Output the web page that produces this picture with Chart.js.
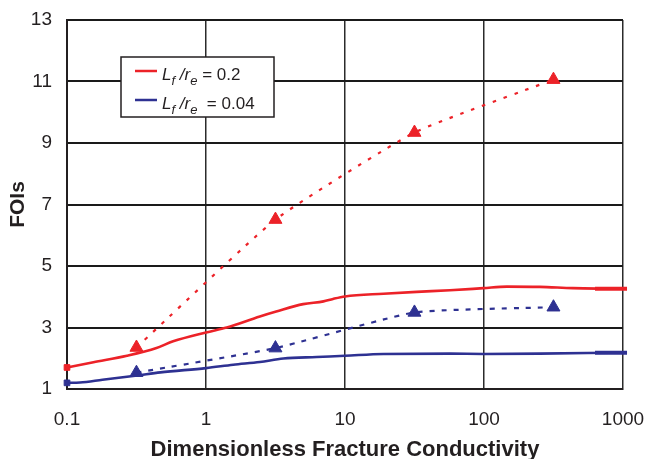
<!DOCTYPE html>
<html lang="en">
<head>
<meta charset="UTF-8">
<title>FOIs vs Dimensionless Fracture Conductivity</title>
<script src="https://cdn.jsdelivr.net/npm/chart.js"></script>
<style>
  html, body { margin: 0; padding: 0; background: #ffffff; overflow: hidden; }
  #wrap { position: relative; width: 645px; height: 459px; }
</style>
</head>
<body>
<div id="wrap"><canvas id="grafico" width="645" height="459"></canvas></div>

<script>
  // Valores
  const xTicks = [0.1, 1, 10, 100, 1000];

  // curva contínua Lf/re = 0.2
  const redCurveX = [0.1, 0.155, 0.27, 0.44, 0.58, 1.0, 1.41, 2.44, 3.2, 5.0, 7.0, 8.2, 10, 18.9, 32.8, 56.9, 99, 146, 252, 436, 820];
  const redCurveY = [1.70, 1.87, 2.08, 2.33, 2.55, 2.84, 3.00, 3.36, 3.52, 3.76, 3.85, 3.93, 4.01, 4.10, 4.16, 4.21, 4.28, 4.33, 4.32, 4.28, 4.26];

  // curva contínua Lf/re = 0.04
  const blueCurveX = [0.1, 0.124, 0.18, 0.32, 0.47, 1.0, 1.57, 2.44, 3.6, 6.25, 10, 18.9, 56.9, 99, 252, 820];
  const blueCurveY = [1.20, 1.21, 1.30, 1.44, 1.54, 1.68, 1.79, 1.88, 1.99, 2.04, 2.08, 2.14, 2.15, 2.14, 2.15, 2.18];

  // pontos (triângulos) ligados por linha pontilhada
  const markerX = [0.316, 3.16, 31.6, 316];
  const redMarkerY = [2.35, 6.51, 9.34, 11.06];
  const blueMarkerY = [1.53, 2.33, 3.49, 3.66];

  const VERMELHO = 'rgb(236, 34, 40)';
  const AZUL = 'rgb(46, 49, 146)';

  function pares(xs, ys) {
    return xs.map((x, i) => ({ x: x, y: ys[i] }));
  }

  // marcador quadrado no início e traço grosso no fim das curvas contínuas
  function estiloPontas(n, inicio, fim, meio) {
    return Array.from({ length: n }, (_, i) => i === 0 ? inicio : (i === n - 1 ? fim : meio));
  }

  function curvaSolida(xs, ys, cor) {
    const n = xs.length;
    return {
      data: pares(xs, ys),
      borderColor: cor,
      backgroundColor: cor,
      borderWidth: 2.6,
      cubicInterpolationMode: 'monotone',
      pointStyle: estiloPontas(n, 'rect', 'line', 'circle'),
      pointRadius: estiloPontas(n, 4, 16, 0),
      pointBorderWidth: estiloPontas(n, 1, 4, 0),
      pointBackgroundColor: cor,
      pointBorderColor: cor,
      clip: false
    };
  }

  function curvaPontilhada(xs, ys, cor, dash) {
    return {
      data: pares(xs, ys),
      borderColor: cor,
      backgroundColor: cor,
      borderWidth: 2.2,
      borderDash: dash,
      tension: 0.15,
      pointStyle: 'triangle',
      pointRadius: 7.5,
      pointBorderWidth: 1,
      pointBackgroundColor: cor,
      pointBorderColor: cor,
      clip: false
    };
  }

  // legenda desenhada no canvas, com L e r em itálico e índices subscritos
  const legendaPlugin = {
    id: 'legendaFOIs',
    afterDatasetsDraw(chart) {
      const ctx = chart.ctx;
      const ca = chart.chartArea;
      const bx = ca.left + 54, by = ca.top + 37, bw = 153, bh = 60;
      ctx.save();
      ctx.fillStyle = '#ffffff';
      ctx.fillRect(bx, by, bw, bh);
      ctx.strokeStyle = '#231f20';
      ctx.lineWidth = 1.5;
      ctx.strokeRect(bx, by, bw, bh);

      const linhas = [
        { cor: VERMELHO, y: ca.top + 51, base: ca.top + 60, resto: ' = 0.2' },
        { cor: AZUL, y: ca.top + 80, base: ca.top + 89, resto: '  = 0.04' }
      ];
      linhas.forEach(l => {
        ctx.strokeStyle = l.cor;
        ctx.lineWidth = 2.5;
        ctx.beginPath();
        ctx.moveTo(ca.left + 68, l.y);
        ctx.lineTo(ca.left + 90, l.y);
        ctx.stroke();

        ctx.fillStyle = '#231f20';
        ctx.textBaseline = 'alphabetic';
        ctx.textAlign = 'left';
        let x = ca.left + 95;
        const partes = [
          { t: 'L', f: 'italic 17px "Liberation Sans", Arial, sans-serif', dy: 0 },
          { t: 'f', f: 'italic 13px "Liberation Sans", Arial, sans-serif', dy: 5 },
          { t: ' /', f: 'italic 17px "Liberation Sans", Arial, sans-serif', dy: 0 },
          { t: 'r', f: 'italic 17px "Liberation Sans", Arial, sans-serif', dy: 0 },
          { t: 'e', f: 'italic 13px "Liberation Sans", Arial, sans-serif', dy: 5 },
          { t: l.resto, f: '17px "Liberation Sans", Arial, sans-serif', dy: 0 }
        ];
        partes.forEach(p => {
          ctx.font = p.f;
          ctx.fillText(p.t, x, l.base + p.dy);
          x += ctx.measureText(p.t).width;
        });
      });
      ctx.restore();
    }
  };

  const ctx = document.getElementById('grafico').getContext('2d');
  const grafico = new Chart(ctx, {
    type: 'line',
    data: {
      datasets: [
        curvaSolida(blueCurveX, blueCurveY, AZUL),
        curvaSolida(redCurveX, redCurveY, VERMELHO),
        curvaPontilhada(markerX, blueMarkerY, AZUL, [5, 7]),
        curvaPontilhada(markerX, redMarkerY, VERMELHO, [3.5, 8])
      ]
    },
    options: {
      responsive: false,
      animation: false,
      events: [],
      layout: { padding: { top: 20, right: 22, left: 0, bottom: 0 } },
      plugins: {
        legend: { display: false },
        tooltip: { enabled: false }
      },
      scales: {
        x: {
          type: 'logarithmic',
          min: 0.1,
          max: 1000,
          afterBuildTicks: function (scale) {
            scale.ticks = xTicks.map(v => ({ value: v }));
          },
          afterFit: function (scale) {
            scale.height = 70;
            scale.paddingLeft = 0;
            scale.paddingRight = 0;
          },
          grid: { color: '#2b2b2b', lineWidth: 1.5, drawTicks: false },
          border: { color: '#231f20', width: 2 },
          ticks: {
            padding: 19,
            color: '#231f20',
            font: { family: '"Liberation Sans", Arial, sans-serif', size: 19 },
            maxRotation: 0,
            autoSkip: false,
            callback: function (v) { return String(v); }
          },
          title: {
            display: true,
            text: 'Dimensionless Fracture Conductivity',
            color: '#231f20',
            font: { family: '"Liberation Sans", Arial, sans-serif', size: 22, weight: 'bold', lineHeight: 1 },
            padding: { top: 0, bottom: -2 }
          }
        },
        y: {
          min: 1,
          max: 13,
          afterFit: function (scale) {
            scale.width = 67;
            scale.paddingTop = 0;
            scale.paddingBottom = 0;
          },
          grid: { color: '#1a1a1a', lineWidth: 2, drawTicks: false },
          border: { color: '#231f20', width: 2 },
          ticks: {
            stepSize: 2,
            padding: 15,
            color: '#231f20',
            font: { family: '"Liberation Sans", Arial, sans-serif', size: 19 }
          },
          title: {
            display: true,
            text: 'FOIs',
            color: '#231f20',
            font: { family: '"Liberation Sans", Arial, sans-serif', size: 21, weight: 'bold', lineHeight: 1 },
            padding: { top: 8, bottom: 0 }
          }
        }
      }
    },
    plugins: [legendaPlugin]
  });
</script>
</body>
</html>
